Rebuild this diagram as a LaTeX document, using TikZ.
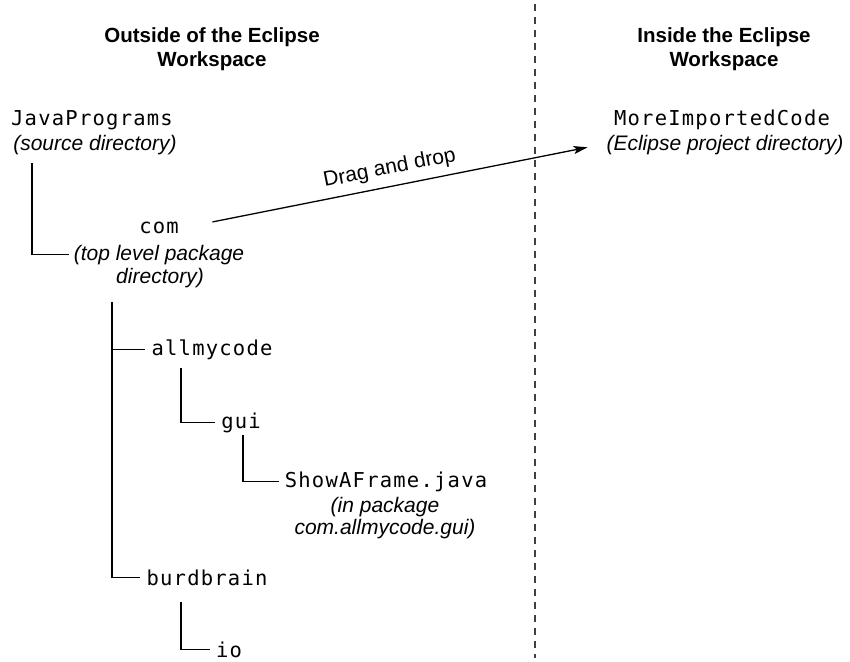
\documentclass[tikz,border=0pt]{standalone}
\usepackage{fontspec}
\setmainfont{Liberation Sans}
\newfontfamily\codefont{DejaVu Sans Mono}[LetterSpace=6]
\usetikzlibrary{arrows.meta}

\begin{document}
\begin{tikzpicture}[
  x=1pt,
  y=-1pt,
  heading/.style={font=\fontsize{20.5}{24}\selectfont\bfseries, align=center},
  dir/.style={font=\fontsize{20.5}{22}\selectfont\codefont,
    inner xsep=6pt, inner ysep=2pt, anchor=base},
  note/.style={font=\fontsize{21}{22}\selectfont\itshape, align=center,
    inner xsep=5pt, inner ysep=2pt, anchor=base},
  tree/.style={draw=black, line width=1.3pt},
  drag/.style={draw=black, line width=1.3pt, shorten <=28pt, shorten >=14pt,
    -{Stealth[length=14pt,width=8pt,inset=3pt]}},
  divider/.style={draw=black!75, line width=1.3pt, dash pattern=on 7pt off 6pt}
]
  \useasboundingbox (0,0) rectangle (850,661);

  % Column headings and the workspace border.
  \node[heading] (outside) at (212,49) {Outside of the Eclipse\\Workspace};
  \node[heading] (inside) at (724,49) {Inside the Eclipse\\Workspace};
  \draw[divider] (535,4) -- (535,658);

  % Source tree outside the workspace.
  \node[dir] (java) at (92,125) {JavaPrograms};
  \node[note] (javanote) at (95,150) {(source directory)};
  \node[dir] (com) at (159,233) {com};
  \node[note] (comnote) at (159,260) {(top level package};
  \node[note] (comdir) at (160,283) {directory)};
  \node[dir] (allmy) at (212,355) {allmycode};
  \node[dir] (gui) at (241,428) {gui};
  \node[dir] (show) at (386,487) {ShowAFrame.java};
  \node[note, anchor=center] (shownote) at (385,518)
    {(in package\\com.allmycode.gui)};
  \node[dir] (burd) at (207,585) {burdbrain};
  \node[dir] (io) at (229,657) {io};

  \coordinate (javaleg) at (32,163);
  \coordinate (comleg) at (112,302);
  \coordinate (allmyleg) at (181,368);
  \coordinate (guileg) at (243,435);
  \coordinate (burdleg) at (181,602);

  \draw[tree] (javaleg) |- (comnote.west);
  \draw[tree] (comleg) |- (burd.west) (comleg |- allmy.west) -- (allmy.west);
  \draw[tree] (allmyleg) |- (gui.west);
  \draw[tree] (guileg) |- (show.west);
  \draw[tree] (burdleg) |- (io.west);

  % Project inside the workspace.
  \node[dir] (more) at (722,125) {MoreImportedCode};
  \node[note] (morenote) at (725,150) {(Eclipse project directory)};

  \draw[drag] (com.east) --
    node[midway, above=4pt, sloped, font=\fontsize{21}{22}\selectfont]
      {Drag and drop}
    (morenote.west);
\end{tikzpicture}
\end{document}
